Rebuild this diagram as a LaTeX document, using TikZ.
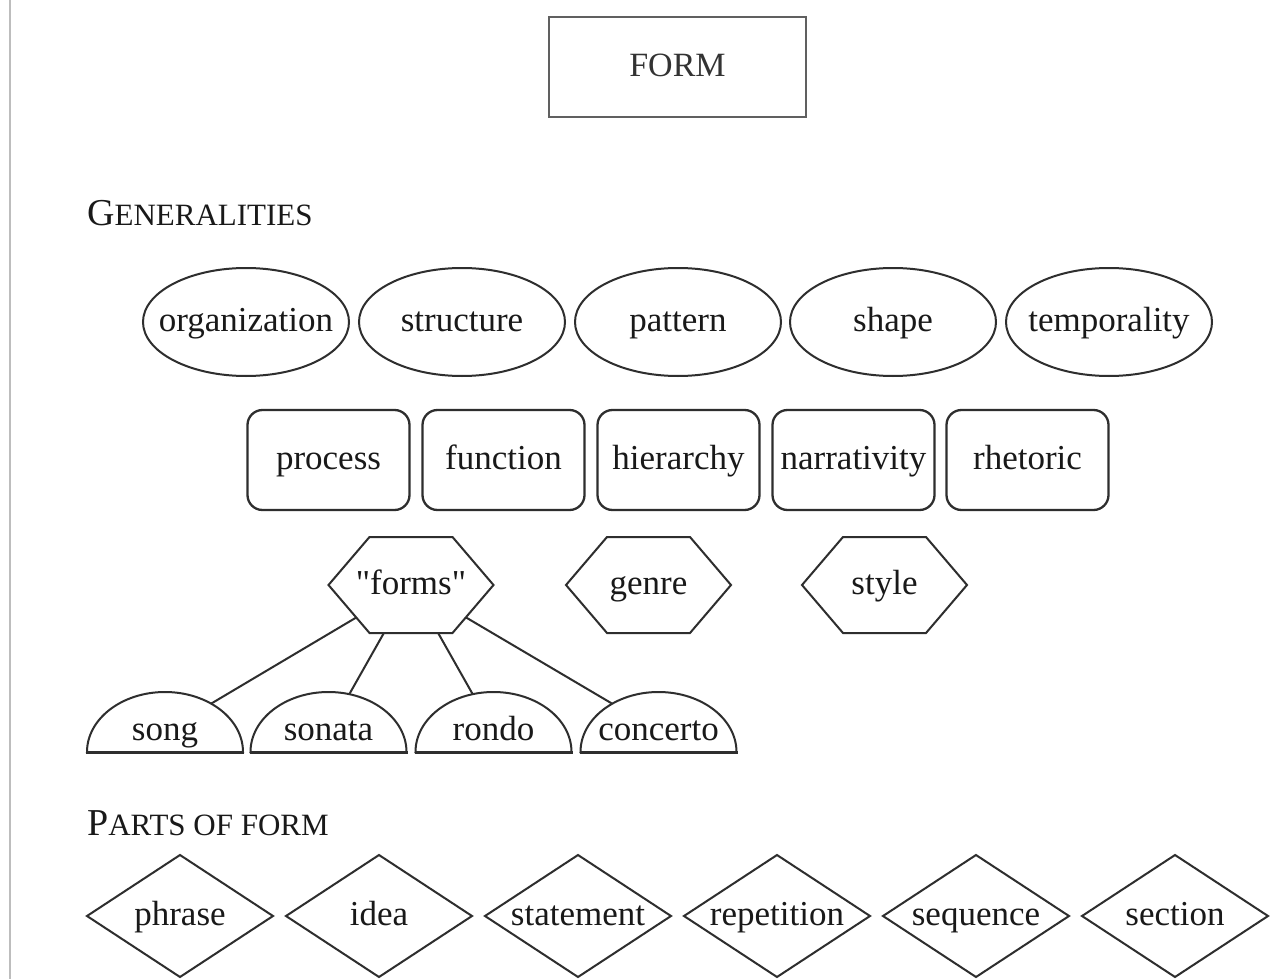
\documentclass[tikz,border=0pt]{standalone}
\usepackage{fontspec}
\setmainfont{Liberation Serif}[Ligatures=TeXOff]
\usetikzlibrary{calc}
\pgfdeclarelayer{back}
\pgfsetlayers{back,main}
\definecolor{ink}{HTML}{2E2E2E}
\definecolor{rule}{HTML}{BDBDBD}
\begin{document}
\begin{tikzpicture}[x=1pt,y=-1pt,
  outline/.style={draw=ink, line width=2pt, fill=white},
  word/.style={font=\fontsize{35pt}{40pt}\selectfont, text=black!90, inner sep=0pt,
               text height=26pt, text depth=8pt},
  boxed/.style={word, draw=ink, line width=2.3pt, rounded corners=15pt,
                minimum width=162pt, minimum height=100pt},
  heading/.style={anchor=base west, inner sep=0pt, text=black!90},
  link/.style={draw=ink, line width=2pt}]
\useasboundingbox (0,0) rectangle (1272,979);
\begin{pgfonlayer}{back}
  \fill[white] (0,0) rectangle (1272,979);
\end{pgfonlayer}

% margin rule
\coordinate (ruletop) at (10,0);
\coordinate (rulebot) at (10,979);
\draw[rule, line width=1.5pt] (ruletop) -- (rulebot);

% title
\node[draw=gray!75!black, line width=2.6pt, minimum width=257pt, minimum height=100pt,
      inner sep=0pt, font=\fontsize{34pt}{40pt}\selectfont, text height=24pt,
      text depth=4pt, text=black!80] (form) at (677.5,67) {FORM};

% section headings in small capitals
\node[heading] (hgen) at (87,225)
  {\fontsize{38pt}{40pt}\selectfont G\fontsize{31pt}{36pt}\selectfont ENERALITIES};
\node[heading] (hparts) at (87,835)
  {\fontsize{38pt}{40pt}\selectfont P\fontsize{31pt}{36pt}\selectfont ARTS OF FORM};

% ovals
\foreach \n/\x/\t in {org/246/organization, str/462/structure, pat/678/pattern,
                      shp/893/shape, tmp/1109/temporality} {
  \draw[outline] (\x,322) ellipse[x radius=103pt, y radius=54pt];
  \node[word] (\n) at (\x,322) {\t};
}

% rounded boxes
\foreach \n/\x/\t in {prc/328.5/process, fun/503.5/function, hie/678.5/hierarchy,
                      nar/853.5/narrativity, rhe/1027.5/rhetoric} {
  \node[boxed] (\n) at (\x,460) {\t};
}

% hexagons
\foreach \n/\x/\t in {frm/411/"forms", gnr/648.5/genre, sty/884.5/style} {
  \draw[outline] (\x,585) ++(-82.5pt,0pt) -- ++(41pt,48pt) -- ++(83pt,0pt)
    -- ++(41pt,-48pt) -- ++(-41pt,-48pt) -- ++(-83pt,0pt) -- cycle;
  \node[word] (\n) at (\x,585) {\t};
}

% domes
\foreach \n/\x in {song/165, sonata/328.5, rondo/493.5, concerto/658.5} {
  \draw[outline] (\x,752) ++(-78pt,0pt)
    arc[start angle=180, end angle=0, x radius=78pt, y radius=60pt] -- cycle;
  \draw[ink, line width=3pt] (\x,752) ++(-79pt,0pt) -- ++(158pt,0pt);
  \node[word] (\n) at (\x,731) {\n};
}

% diamonds
\foreach \n/\x in {phrase/180, idea/379, statement/578, repetition/777,
                   sequence/976, section/1175} {
  \draw[outline] (\x,916) ++(-93pt,0pt) -- ++(93pt,61pt) -- ++(93pt,-61pt)
    -- ++(-93pt,-61pt) -- cycle;
  \node[word] (\n) at (\x,916) {\n};
}

% "forms" branches to its kinds
\begin{pgfonlayer}{back}
  \foreach \d in {song, sonata, rondo, concerto}
    \draw[link] (frm.center) -- (\d.center);
\end{pgfonlayer}
\end{tikzpicture}
\end{document}
